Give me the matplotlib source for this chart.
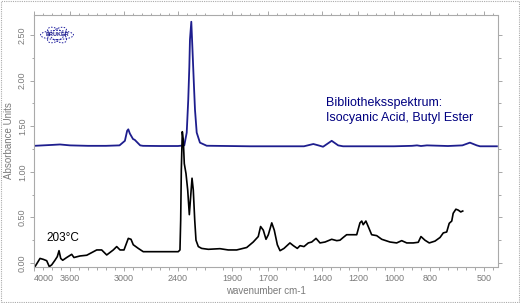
import numpy as np
import matplotlib
matplotlib.use("Agg")
import matplotlib.pyplot as plt
from matplotlib.patches import Ellipse, Rectangle

# library spectrum (isocyanic acid, butyl ester)
lib_wn = [4000, 3900, 3800, 3711, 3600, 3400, 3200, 3050, 2990, 2965,
          2952, 2935, 2900, 2880, 2860, 2820, 2789, 2600, 2400, 2330,
          2303, 2286, 2274, 2267, 2252, 2239, 2222, 2211, 2192, 2156,
          2081, 1800, 1500, 1448, 1420, 1394, 1346, 1310, 1283, 1000,
          900, 872, 850, 817, 700, 620, 578, 540, 522, 428]
lib_abs = [1.285, 1.29, 1.295, 1.30, 1.29, 1.285, 1.285, 1.29, 1.34, 1.45,
           1.466, 1.42, 1.36, 1.35, 1.33, 1.29, 1.285, 1.283, 1.283, 1.29,
           1.43, 1.79, 2.15, 2.45, 2.646, 2.34, 1.93, 1.68, 1.43, 1.32,
           1.286, 1.28, 1.28, 1.305, 1.29, 1.275, 1.34, 1.29, 1.28, 1.28,
           1.285, 1.29, 1.283, 1.29, 1.283, 1.29, 1.32, 1.29, 1.28, 1.28]

# measured spectrum at 203 C
smp_wn = [3989, 3933, 3897, 3859, 3830, 3803, 3767, 3741, 3722, 3703,
          3681, 3637, 3581, 3556, 3489, 3414, 3303, 3248, 3192, 3119,
          3081, 3044, 3000, 2952, 2922, 2897, 2841, 2786, 2637, 2397,
          2378, 2370, 2363, 2352, 2341, 2330, 2311, 2292, 2274, 2259,
          2244, 2230, 2214, 2200, 2174, 2137, 2063, 1967, 1921, 1874,
          1818, 1782, 1754, 1741, 1726, 1711, 1698, 1679, 1665, 1648,
          1633, 1611, 1578, 1559, 1537, 1522, 1500, 1476, 1457, 1433,
          1411, 1383, 1346, 1318, 1300, 1282, 1263, 1207, 1189, 1179,
          1171, 1156, 1143, 1124, 1096, 1068, 1022, 985, 957, 929,
          893, 865, 850, 828, 804, 772, 744, 726, 707, 693,
          679, 671, 656, 643, 629, 618]
smp_abs = [-0.04, 0.05, 0.04, 0.025, -0.04, -0.02, 0.03, 0.07, 0.135, 0.05,
           0.03, 0.06, 0.095, 0.06, 0.077, 0.085, 0.143, 0.143, 0.088, 0.143,
           0.18, 0.143, 0.143, 0.27, 0.26, 0.20, 0.16, 0.124, 0.124, 0.124,
           0.143, 0.47, 1.02, 1.44, 1.35, 1.09, 0.98, 0.80, 0.53, 0.73,
           0.93, 0.80, 0.47, 0.25, 0.18, 0.16, 0.15, 0.157, 0.143, 0.143,
           0.17, 0.23, 0.29, 0.40, 0.36, 0.26, 0.31, 0.44, 0.36, 0.20,
           0.135, 0.16, 0.22, 0.19, 0.16, 0.19, 0.18, 0.22, 0.23, 0.27,
           0.22, 0.23, 0.26, 0.245, 0.25, 0.28, 0.31, 0.31, 0.44, 0.46,
           0.42, 0.46, 0.40, 0.31, 0.30, 0.26, 0.23, 0.22, 0.245, 0.22,
           0.22, 0.227, 0.29, 0.25, 0.22, 0.24, 0.28, 0.33, 0.34, 0.435,
           0.46, 0.545, 0.59, 0.58, 0.56, 0.57]

x_ticks = [4000, 3600, 3000, 2400, 1900, 1700, 1400, 1200, 1000, 800, 500]
y_ticks = [0.0, 0.5, 1.0, 1.5, 2.0, 2.5]


# OPUS style axis: above 2000 cm-1 the scale is compressed by 2
def fwd(w):
    w = np.asarray(w, dtype=float)
    return np.where(w > 2000, 2000 + (w - 2000) / 2, w)


def inv(p):
    p = np.asarray(p, dtype=float)
    return np.where(p > 2000, 2000 + (p - 2000) * 2, p)


plt.rcParams['font.family'] = ['Liberation Sans', 'DejaVu Sans']
gray = '#7a7a7a'

fig = plt.figure(figsize=(5.2, 3.03), dpi=100)
ax = fig.add_axes([34 / 520, 1 - 267 / 303, 464 / 520, 252 / 303])

ax.set_xscale('function', functions=(fwd, inv))
ax.plot(lib_wn, lib_abs, color='#1e1e8e', lw=1.3)
ax.plot(smp_wn, smp_abs, color='black', lw=1.2)
ax.set_xlim(4000, 422)
ax.set_ylim(-0.044, 2.72)

ax.set_xticks(x_ticks)
ax.set_xticklabels([str(t) for t in x_ticks])
ax.get_xticklabels()[0].set_horizontalalignment('left')
minor_x = list(range(3900, 2000, -100)) + list(range(1950, 420, -50))
ax.set_xticks(minor_x, minor=True)
ax.set_yticks(y_ticks)
ax.set_yticklabels(['%.2f' % t for t in y_ticks], rotation=90, va='center')
ax.set_yticks(np.arange(0.25, 2.7, 0.5), minor=True)

ax.tick_params(which='both', colors='#999999', labelcolor=gray, labelsize=6.5,
               top=True, right=True, direction='out', width=0.6)
ax.tick_params(which='major', length=3, pad=2)
ax.tick_params(which='minor', length=1.8)
for s in ax.spines.values():
    s.set_color('#aaaaaa')
    s.set_linewidth(0.8)
    s.set_linestyle((0, (1, 1)))

ax.set_xlabel('wavenumber cm-1', fontsize=7, color=gray, labelpad=2)
ax.set_ylabel('Absorbance Units', fontsize=7, color=gray, labelpad=3)

ax.text(326 / 520, 1 - 103 / 303, 'Bibliotheksspektrum:', transform=fig.transFigure,
        fontsize=9, color='#000080', va='center', ha='left')
ax.text(326 / 520, 1 - 118 / 303, 'Isocyanic Acid, Butyl Ester', transform=fig.transFigure,
        fontsize=9, color='#000080', va='center', ha='left')
ax.text(46 / 520, 1 - 238 / 303, '203\u00b0C', transform=fig.transFigure,
        fontsize=8.5, color='black', va='center', ha='left')

# small Bruker logo in the top left corner
cx, cy = 0.57, (303 - 35) / 100
for ang, w, h in [(0, 0.33, 0.09), (35, 0.22, 0.11), (-35, 0.22, 0.11)]:
    fig.patches.append(Ellipse((cx, cy), w, h, angle=ang, fill=False, ec='#1e1e9e',
                               lw=0.7, ls=(0, (1.5, 1.5)), transform=fig.dpi_scale_trans))
fig.text(cx * 100 / 520, 1 - 35 / 303, 'BRUKER', fontsize=4, fontweight='bold',
         color='#1e1e8e', ha='center', va='center')

# dotted frame around the picture
fig.patches.append(Rectangle((1 / 520, 1 / 303), 518 / 520, 301 / 303, fill=False,
                             ec='#aaaaaa', lw=0.8, ls=(0, (1, 1)),
                             transform=fig.transFigure))

fig.savefig('out.png', dpi=100)
